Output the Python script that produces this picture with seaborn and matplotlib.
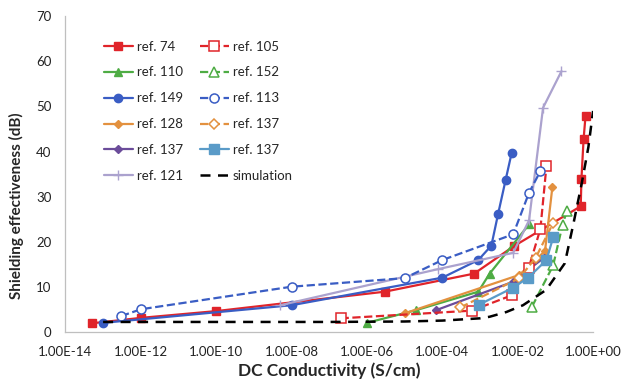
import matplotlib
matplotlib.use("Agg")
import matplotlib.pyplot as plt
import seaborn as sns

# DC conductivity (S/cm) vs shielding effectiveness (dB) from published references
ref74_x = [5e-14, 1e-12, 1e-10, 3e-6, 7e-4, 8e-3, 0.47, 0.49, 0.56, 0.63]
ref74_y = [2.0, 3.2, 4.7, 9.0, 13.0, 19.1, 27.9, 33.9, 42.8, 47.9]

ref105_x = [2e-7, 6e-4, 7e-3, 0.0195, 0.040, 0.058]
ref105_y = [3.1, 4.8, 8.2, 14.2, 22.9, 36.9]

ref110_x = [1e-6, 2e-5, 9e-4, 1.8e-3, 0.02]
ref110_y = [2.1, 4.9, 9.0, 13.0, 23.9]

ref152_x = [0.024, 0.087, 0.155, 0.20]
ref152_y = [5.7, 14.8, 23.8, 26.8]

ref149_x = [1e-13, 1e-8, 1e-4, 9e-4, 2e-3, 3e-3, 4.8e-3, 6.9e-3]
ref149_y = [2.1, 6.0, 12.1, 16.0, 19.2, 26.1, 33.8, 39.7]

ref113_x = [3e-13, 1e-12, 1e-8, 1e-5, 1e-4, 7.6e-3, 0.02, 0.04]
ref113_y = [3.6, 5.1, 10.1, 12.0, 16.0, 21.7, 30.9, 35.7]

ref128_x = [1e-5, 1.1e-2, 0.053, 0.083]
ref128_y = [4.2, 12.7, 18.0, 32.1]

ref137a_x = [3e-4, 0.011, 0.03, 0.087]
ref137a_y = [5.5, 12.0, 16.5, 24.2]

ref137b_x = [6.8e-5, 7.6e-3, 0.02, 0.05]
ref137b_y = [4.9, 11.2, 14.0, 16.5]

ref137c_x = [9.3e-4, 7.6e-3, 0.019, 0.058, 0.087]
ref137c_y = [6.1, 9.9, 12.1, 16.0, 21.0]

ref121_x = [5e-9, 7.8e-5, 7.6e-3, 0.02, 0.047, 0.145]
ref121_y = [6.0, 14.0, 17.6, 24.8, 49.7, 57.8]

sim_x = [1e-13, 1e-10, 1e-7, 1e-5, 1e-4, 1e-3, 1.8e-3, 5e-3, 0.0138, 0.057,
         0.178, 0.3, 0.5, 0.75, 1.0]
sim_y = [2.3, 2.3, 2.3, 2.4, 2.6, 3.1, 3.45, 4.5, 6.0, 9.4,
         15.3, 24.0, 33.0, 41.0, 49.0]

xticks = [1e-14, 1e-12, 1e-10, 1e-8, 1e-6, 1e-4, 1e-2, 1e0]
xtick_labels = ["1.00E-14", "1.00E-12", "1.00E-10", "1.00E-08",
                "1.00E-06", "1.00E-04", "1.00E-02", "1.00E+00"]
yticks = [0, 10, 20, 30, 40, 50, 60, 70]

RED = "#E0242A"
GREEN = "#4EAC44"
BLUE = "#3A5DC4"
ORANGE = "#E3913F"
PURPLE = "#6B4C9A"
STEEL = "#5A9BC8"
LAVENDER = "#ABA2CE"

sns.set_style("white")
plt.rcParams["font.family"] = ["Lato", "DejaVu Sans"]

fig = plt.figure(figsize=(6.23, 3.82), dpi=100)
ax = fig.add_axes([0.105, 0.130, 0.847, 0.828])

series = [
    ("ref. 74", ref74_x, ref74_y, RED, "s", "-", True, 6),
    ("ref. 110", ref110_x, ref110_y, GREEN, "^", "-", True, 6),
    ("ref. 149", ref149_x, ref149_y, BLUE, "o", "-", True, 6),
    ("ref. 128", ref128_x, ref128_y, ORANGE, "D", "-", True, 4.5),
    ("ref. 137", ref137b_x, ref137b_y, PURPLE, "D", "-", True, 4.5),
    ("ref. 121", ref121_x, ref121_y, LAVENDER, "+", "-", True, 7),
    ("ref. 105", ref105_x, ref105_y, RED, "s", "--", False, 6.5),
    ("ref. 152", ref152_x, ref152_y, GREEN, "^", "--", False, 6.5),
    ("ref. 113", ref113_x, ref113_y, BLUE, "o", "--", False, 6.5),
    ("ref. 137", ref137a_x, ref137a_y, ORANGE, "D", "--", False, 5),
    ("ref. 137", ref137c_x, ref137c_y, STEEL, "s", "-", True, 6.5),
]

for label, xs, ys, color, marker, ls, filled, ms in series:
    sns.lineplot(x=xs, y=ys, ax=ax, color=color, marker=marker, linestyle=ls,
                 linewidth=1.6, markersize=ms, sort=False, estimator=None,
                 markerfacecolor=color if filled else "white",
                 markeredgecolor=color, markeredgewidth=1.0 if filled else 1.1,
                 label=label)

sns.lineplot(x=sim_x, y=sim_y, ax=ax, color="black", linestyle=(0, (4, 3)),
             linewidth=1.8, sort=False, estimator=None, label="simulation")

ax.set_xscale("log")
ax.set_xlim(1e-14, 1e0)
ax.set_ylim(0, 70)
ax.set_xticks(xticks)
ax.set_xticklabels(xtick_labels)
ax.minorticks_off()
ax.set_yticks(yticks)

for side in ("top", "right"):
    ax.spines[side].set_visible(False)
for side in ("left", "bottom"):
    ax.spines[side].set_color("#BFBFBF")
    ax.spines[side].set_linewidth(0.9)
ax.tick_params(axis="both", which="major", direction="out", length=4,
               width=0.9, color="#BFBFBF", labelsize=9.5, labelcolor="#222222",
               pad=6)

ax.set_xlabel("DC Conductivity (S/cm)", fontsize=12.5, fontweight="bold",
              labelpad=3)
ax.set_ylabel("Shielding effectiveness (dB)", fontsize=11, fontweight="bold",
              labelpad=6)
ax.yaxis.set_label_coords(-0.078, 0.40)

h, l = ax.get_legend_handles_labels()
leg = ax.legend(h, l, ncol=2, loc="upper left",
                bbox_to_anchor=(0.05, 0.96), frameon=False,
                fontsize=9.5, handlelength=2.2, handletextpad=0.3,
                columnspacing=1.3, labelspacing=1.05)

fig.savefig("out.png", dpi=100)
